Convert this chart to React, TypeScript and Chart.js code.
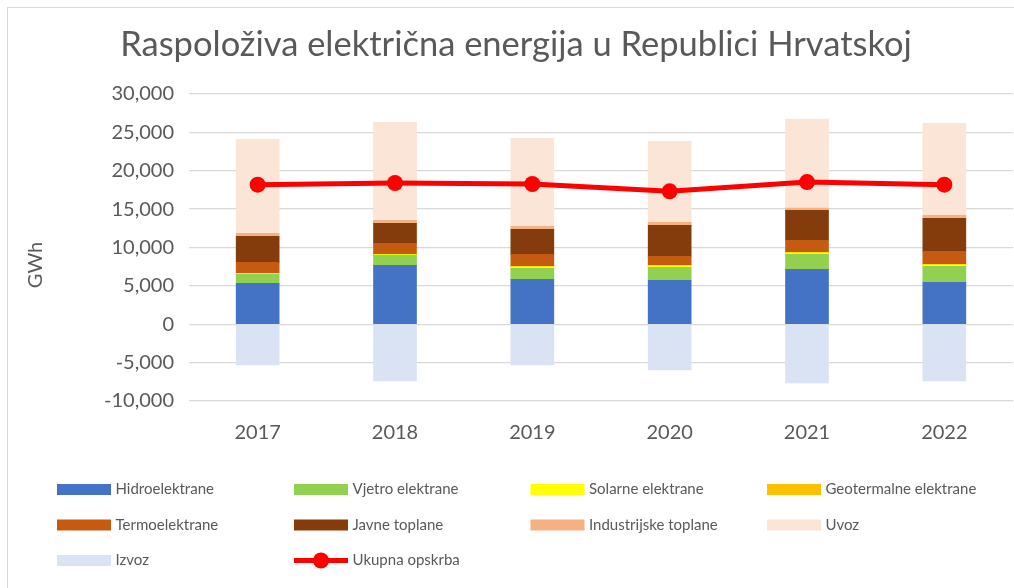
import React, { useEffect, useRef } from "react";
import { Chart, registerables } from "chart.js";

Chart.register(...registerables);

const years = ["2017", "2018", "2019", "2020", "2021", "2022"];
const hidro = [5340, 7680, 5860, 5730, 7160, 5470];
const vjetro = [1200, 1320, 1430, 1690, 1950, 2080];
const solarne = [80, 110, 180, 180, 180, 180];
const geotermalne = [0, 0, 80, 80, 80, 80];
const termo = [1450, 1440, 1560, 1170, 1570, 1690];
const javne = [3390, 2600, 3260, 4040, 3900, 4300];
const industrijske = [390, 390, 390, 390, 300, 390];
const uvoz = [12240, 12760, 11460, 10550, 11590, 11980];
const izvoz = [-5300, -7380, -5300, -5950, -7640, -7380];
const ukupno = [18190, 18400, 18270, 17320, 18530, 18190];
const yTicks = [-10000, -5000, 0, 5000, 10000, 15000, 20000, 25000, 30000];

const TITLE = "Raspoloživa električna energija u Republici Hrvatskoj";
const FONT = "Lato, 'Open Sans', sans-serif";
const TXT = "#595959";

const barSeries = [
  { label: "Hidroelektrane", data: hidro, color: "#4472C4" },
  { label: "Vjetro elektrane", data: vjetro, color: "#92D050" },
  { label: "Solarne elektrane", data: solarne, color: "#FFFF00" },
  { label: "Geotermalne elektrane", data: geotermalne, color: "#FFC000" },
  { label: "Termoelektrane", data: termo, color: "#C55A11" },
  { label: "Javne toplane", data: javne, color: "#843C0C" },
  { label: "Industrijske toplane", data: industrijske, color: "#F4B183" },
  { label: "Uvoz", data: uvoz, color: "#FBE5D6" },
  { label: "Izvoz", data: izvoz, color: "#DAE3F3" },
];

const decorPlugin = {
  id: "decor",
  beforeDraw(chart: any) {
    const ctx = chart.ctx;
    ctx.save();
    ctx.fillStyle = "#ffffff";
    ctx.fillRect(0, 0, chart.width, chart.height);
    ctx.restore();
  },
  afterDraw(chart: any) {
    const ctx = chart.ctx;
    ctx.save();
    ctx.strokeStyle = "#d9d9d9";
    ctx.lineWidth = 1;
    ctx.strokeRect(7.5, 7.5, 1200, 800);
    ctx.fillStyle = TXT;
    ctx.font = `34.5px ${FONT}`;
    ctx.textAlign = "center";
    ctx.textBaseline = "middle";
    ctx.fillText(TITLE, 516, 45);
    ctx.save();
    ctx.translate(36, 265);
    ctx.rotate(-Math.PI / 2);
    ctx.font = `20px ${FONT}`;
    ctx.fillText("GWh", 0, 0);
    ctx.restore();
    const items: any[] = chart.data.datasets.map((d: any) => d);
    const order = [...items.filter((d: any) => d.type !== "line"), ...items.filter((d: any) => d.type === "line")];
    ctx.font = `15px ${FONT}`;
    ctx.textAlign = "left";
    ctx.textBaseline = "middle";
    const colX = [57, 294, 530.5, 767];
    const rowY = [489.5, 525, 560.5];
    order.forEach((d: any, i: number) => {
      const x = colX[i % 4];
      const y = rowY[Math.floor(i / 4)];
      if (d.type === "line") {
        ctx.strokeStyle = d.borderColor;
        ctx.lineWidth = 5;
        ctx.beginPath();
        ctx.moveTo(x, y);
        ctx.lineTo(x + 54, y);
        ctx.stroke();
        ctx.fillStyle = d.borderColor;
        ctx.beginPath();
        ctx.arc(x + 27, y, 8, 0, Math.PI * 2);
        ctx.fill();
      } else {
        ctx.fillStyle = d.backgroundColor;
        ctx.fillRect(x, y - 5.5, 54, 11);
      }
      ctx.fillStyle = TXT;
      ctx.fillText(d.label, x + 58.5, y);
    });
    ctx.restore();
  },
};

export default function App() {
  const ref = useRef<HTMLCanvasElement | null>(null);
  useEffect(() => {
    if (!ref.current) return;
    const datasets: any[] = barSeries.map((s) => ({
      type: "bar",
      label: s.label,
      data: s.data,
      backgroundColor: s.color,
      borderWidth: 0,
      stack: "main",
      order: 1,
      barThickness: 43,
    }));
    datasets.push({
      type: "line",
      label: "Ukupna opskrba",
      data: ukupno,
      borderColor: "#FF0000",
      backgroundColor: "#FF0000",
      borderWidth: 5,
      pointRadius: 8,
      pointBackgroundColor: "#FF0000",
      pointBorderWidth: 0,
      stack: "total",
      order: 0,
      tension: 0,
      clip: false,
    });
    const chart = new Chart(ref.current, {
      type: "bar",
      data: { labels: years, datasets },
      plugins: [decorPlugin],
      options: {
        responsive: false,
        animation: false,
        devicePixelRatio: 1,
        layout: { autoPadding: false, padding: { left: 0, right: 1, top: 94, bottom: 137 } },
        plugins: {
          legend: { display: false },
          title: { display: false },
          tooltip: { enabled: false },
        },
        scales: {
          x: {
            stacked: true,
            grid: { display: false },
            border: { display: false },
            ticks: { color: TXT, font: { family: FONT, size: 20 }, padding: 12 },
            afterFit: (s: any) => {
              s.height = 50;
              s.paddingLeft = 0;
              s.paddingRight = 0;
            },
          },
          y: {
            stacked: true,
            min: -10000,
            max: 30000,
            afterBuildTicks: (s: any) => {
              s.ticks = yTicks.map((v) => ({ value: v }));
            },
            grid: { color: "#d9d9d9", lineWidth: 1.3, drawTicks: false },
            border: { display: false },
            ticks: {
              color: TXT,
              font: { family: FONT, size: 20 },
              padding: 15,
              callback: (v: any) => Number(v).toLocaleString("en-US"),
            },
            afterFit: (s: any) => {
              s.width = 189;
              s.paddingTop = 0;
              s.paddingBottom = 0;
            },
          },
        },
      } as any,
    });
    return () => chart.destroy();
  }, []);
  return (
    <div style={{ position: "absolute", left: 0, top: 0, width: 1014, height: 588, background: "#fff" }}>
      <canvas ref={ref} width={1014} height={588} style={{ display: "block" }} />
    </div>
  );
}
